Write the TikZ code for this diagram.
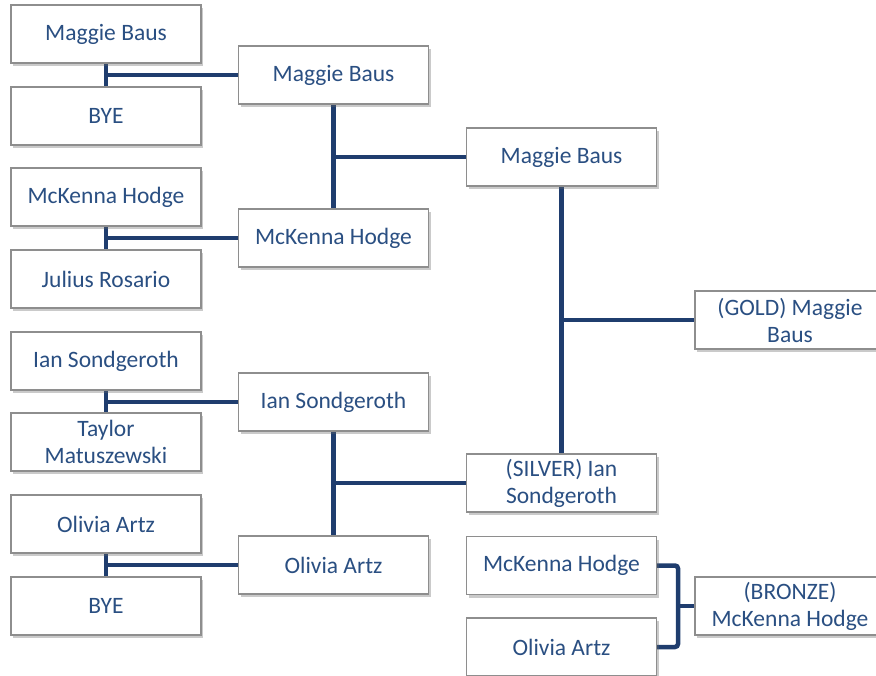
\documentclass[tikz,border=0pt]{standalone}
\usepackage{fontspec}
\setmainfont{Carlito}
\usetikzlibrary{shadows,backgrounds}
\definecolor{txtblue}{HTML}{2A4F82}
\definecolor{lineblue}{HTML}{1F3D6E}
\definecolor{boxgray}{HTML}{8E8E8E}
\tikzset{
  pbox/.style={draw=boxgray, line width=1.3pt, fill=white, minimum width=190pt, minimum height=58pt,
    inner sep=0pt, align=center, text=txtblue, font=\fontsize{23.5}{27}\selectfont,
    drop shadow={shadow xshift=2pt, shadow yshift=-3pt, opacity=0.35, fill=black!60}},
  link/.style={draw=lineblue, line width=4.5pt},
}
\begin{document}
\begin{tikzpicture}[x=1pt,y=-1pt]
\useasboundingbox (0,0) rectangle (876,676);
\clip (0,0) rectangle (876,676);
% column 1
\node[pbox] (a1) at (106,34) {Maggie Baus};
\node[pbox] (a2) at (106,116) {BYE};
\node[pbox] (a3) at (106,197) {McKenna Hodge};
\node[pbox] (a4) at (106,279) {Julius Rosario};
\node[pbox] (a5) at (106,361) {Ian Sondgeroth};
\node[pbox] (a6) at (106,442) {Taylor\\Matuszewski};
\node[pbox] (a7) at (106,524) {Olivia Artz};
\node[pbox] (a8) at (106,606) {BYE};
% column 2
\node[pbox] (b1) at (333.5,75) {Maggie Baus};
\node[pbox] (b2) at (333.5,238) {McKenna Hodge};
\node[pbox] (b3) at (333.5,402) {Ian Sondgeroth};
\node[pbox] (b4) at (333.5,565) {Olivia Artz};
% column 3
\node[pbox] (c1) at (561.5,157) {Maggie Baus};
\node[pbox] (c2) at (561.5,483) {(SILVER) Ian\\Sondgeroth};
\node[pbox] (c3) at (561.5,565.5) {McKenna Hodge};
\node[pbox] (c4) at (561.5,647) {Olivia Artz};
% column 4
\node[pbox] (d1) at (790,320) {(GOLD) Maggie\\Baus};
\node[pbox] (d2) at (790,606) {(BRONZE)\\McKenna Hodge};
\coordinate (bj) at (678,606);
% connectors
\begin{scope}[on background layer]
\draw[link] (a1.south) -- (a2.north);
\draw[link] (a1.south |- b1.west) -- (b1.west);
\draw[link] (a3.south) -- (a4.north);
\draw[link] (a3.south |- b2.west) -- (b2.west);
\draw[link] (a5.south) -- (a6.north);
\draw[link] (a5.south |- b3.west) -- (b3.west);
\draw[link] (a7.south) -- (a8.north);
\draw[link] (a7.south |- b4.west) -- (b4.west);
\draw[link] (b1.south) -- (b2.north);
\draw[link] (b1.south |- c1.west) -- (c1.west);
\draw[link] (b3.south) -- (b4.north);
\draw[link] (b3.south |- c2.west) -- (c2.west);
\draw[link] (c1.south) -- (c2.north);
\draw[link] (c1.south |- d1.west) -- (d1.west);
\draw[link, rounded corners=3pt] (c3.east) -| (bj) |- (c4.east);
\draw[link] (bj) -- (d2.west);
\end{scope}
\end{tikzpicture}
\end{document}
